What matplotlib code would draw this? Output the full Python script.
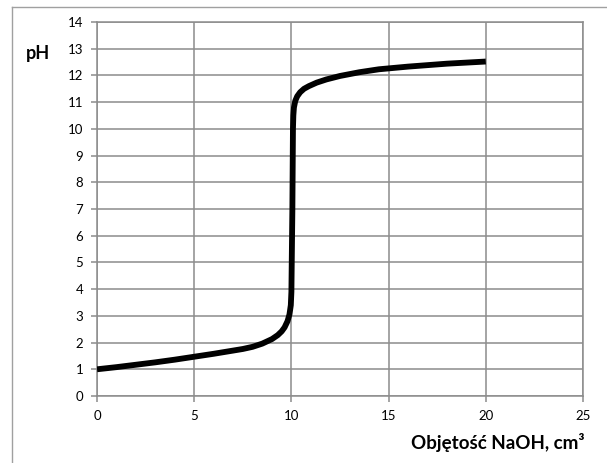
import numpy as np
import matplotlib.pyplot as plt
from matplotlib.lines import Line2D

# --- dane ---
v_naoh = [0, 1, 2, 3, 4, 5, 6, 7, 7.5, 8, 8.5, 9, 9.3, 9.5, 9.65, 9.8, 9.9,
          9.97, 10.0, 10.05, 10.08, 10.1, 10.13, 10.2, 10.3, 10.45, 10.65,
          10.9, 11.3, 11.8, 12.5, 13.5, 14.5, 16, 18, 20]
ph = [1.0, 1.08, 1.17, 1.26, 1.36, 1.47, 1.58, 1.7, 1.76, 1.84, 1.96, 2.13,
      2.28, 2.42, 2.57, 2.8, 3.05, 3.4, 3.9, 7.0, 10.0, 10.5, 10.8, 11.05,
      11.22, 11.37, 11.5, 11.6, 11.73, 11.85, 11.98, 12.12, 12.23, 12.33,
      12.44, 12.52]
x_ticks = [0, 5, 10, 15, 20, 25]
y_ticks = list(range(0, 15))

plt.rcParams['font.family'] = ['Lato', 'DejaVu Sans']
grid_c = '#8c8c8c'

fig = plt.figure(figsize=(6.07, 4.63), dpi=100)
ax = fig.add_axes([97/607, 67/463, 486/607, 374/463])

ax.plot(v_naoh, ph, color='black', lw=4.2, solid_joinstyle='round',
        solid_capstyle='butt', zorder=3)

ax.set_xlim(0, 25); ax.set_ylim(0, 14)
ax.set_xticks(x_ticks); ax.set_yticks(y_ticks)
ax.grid(True, color=grid_c, lw=1.1)
for s in ax.spines.values():
    s.set_color(grid_c); s.set_linewidth(1.1)
ax.tick_params(direction='out', length=4, width=1.1, color=grid_c,
               labelsize=9.5, pad=6)

fig.text(38/607, 1 - 54/463, 'pH', fontsize=13, fontweight='bold',
         ha='center', va='center')
fig.text(585/607, 1 - 443/463, 'Objętość NaOH, cm³', fontsize=13.5,
         fontweight='bold', ha='right', va='center')

# ramka wokół wykresu (jak w dokumencie)
fig.add_artist(Line2D([12/607, 1], [1 - 7/463] * 2, color='#a0a0a0', lw=1,
                      transform=fig.transFigure))
fig.add_artist(Line2D([12/607] * 2, [0, 1 - 7/463], color='#a0a0a0', lw=1,
                      transform=fig.transFigure))

fig.savefig('out.png', dpi=100)
